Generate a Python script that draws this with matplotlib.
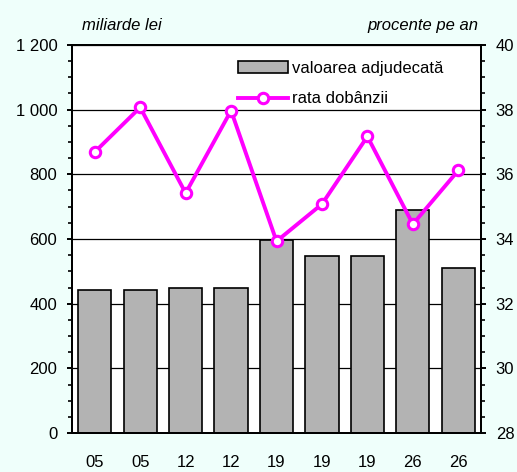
import numpy as np
import matplotlib
matplotlib.use('Agg')
import matplotlib.pyplot as plt
from matplotlib.ticker import MultipleLocator, FuncFormatter

plt.rcParams['font.family'] = ['Liberation Sans', 'DejaVu Sans']

# date ale licitatiilor
zile = ['05', '05', '12', '12', '19', '19', '19', '26', '26']
valoare = [443, 443, 448, 448, 598, 548, 548, 690, 511]      # miliarde lei
rata = [36.69, 38.07, 35.42, 37.97, 33.93, 35.08, 37.17, 34.46, 36.12]  # procente pe an

fs = 12
fig = plt.figure(figsize=(5.17, 4.72), dpi=100)
fig.patch.set_facecolor('#effffb')
ax1 = fig.add_axes([0.1393, 0.0826, 0.7911, 0.8221])
ax2 = ax1.twinx()

x = np.arange(len(zile))
bare = ax1.bar(x, valoare, width=0.73, color='#b3b3b3', edgecolor='black',
               linewidth=1.2, zorder=2, label='valoarea adjudecată')
ax1.set_xlim(-0.5, len(zile) - 0.5)
ax1.set_ylim(0, 1200)
ax1.yaxis.set_major_locator(MultipleLocator(200))
ax1.yaxis.set_minor_locator(MultipleLocator(50))
ax1.yaxis.set_major_formatter(FuncFormatter(lambda v, p: f'{int(v):,}'.replace(',', ' ')))
ax1.grid(axis='y', color='black', lw=0.9, zorder=0)
ax1.set_axisbelow(True)
ax1.set_xticks(x)
ax1.set_xticklabels(zile, fontsize=fs)
ax1.tick_params(axis='x', length=0, pad=16)
ax1.tick_params(axis='y', which='major', direction='out', length=3.6, width=1.4,
                labelsize=fs, pad=7)
ax1.tick_params(axis='y', which='minor', direction='out', length=2.6, width=1.2)

linie, = ax2.plot(x, rata, color='#ff00ff', lw=2.8, marker='o', ms=7.5,
                  mfc='white', mec='#ff00ff', mew=2.2, zorder=3, label='rata dobânzii')
ax2.set_ylim(28, 40)
ax2.yaxis.set_major_locator(MultipleLocator(2))
ax2.yaxis.set_minor_locator(MultipleLocator(0.5))
ax2.tick_params(axis='y', which='major', direction='out', length=3.6, width=1.4,
                labelsize=fs, pad=7)
ax2.tick_params(axis='y', which='minor', direction='out', length=2.6, width=1.2)

for ax in (ax1, ax2):
    for s in ax.spines.values():
        s.set_linewidth(1.4)

ax2.legend([bare, linie], ['valoarea adjudecată', 'rata dobânzii'],
           loc='upper left', bbox_to_anchor=(0.378, 0.99), frameon=False,
           fontsize=fs, handlelength=3.0, handletextpad=0.25, labelspacing=0.95,
           borderaxespad=0.3)

fig.text(0.159, 0.947, 'miliarde lei', style='italic', fontsize=fs, va='center')
fig.text(0.925, 0.947, 'procente pe an', style='italic', fontsize=fs,
         va='center', ha='right')

fig.savefig('out.png', dpi=100, facecolor=fig.get_facecolor())
